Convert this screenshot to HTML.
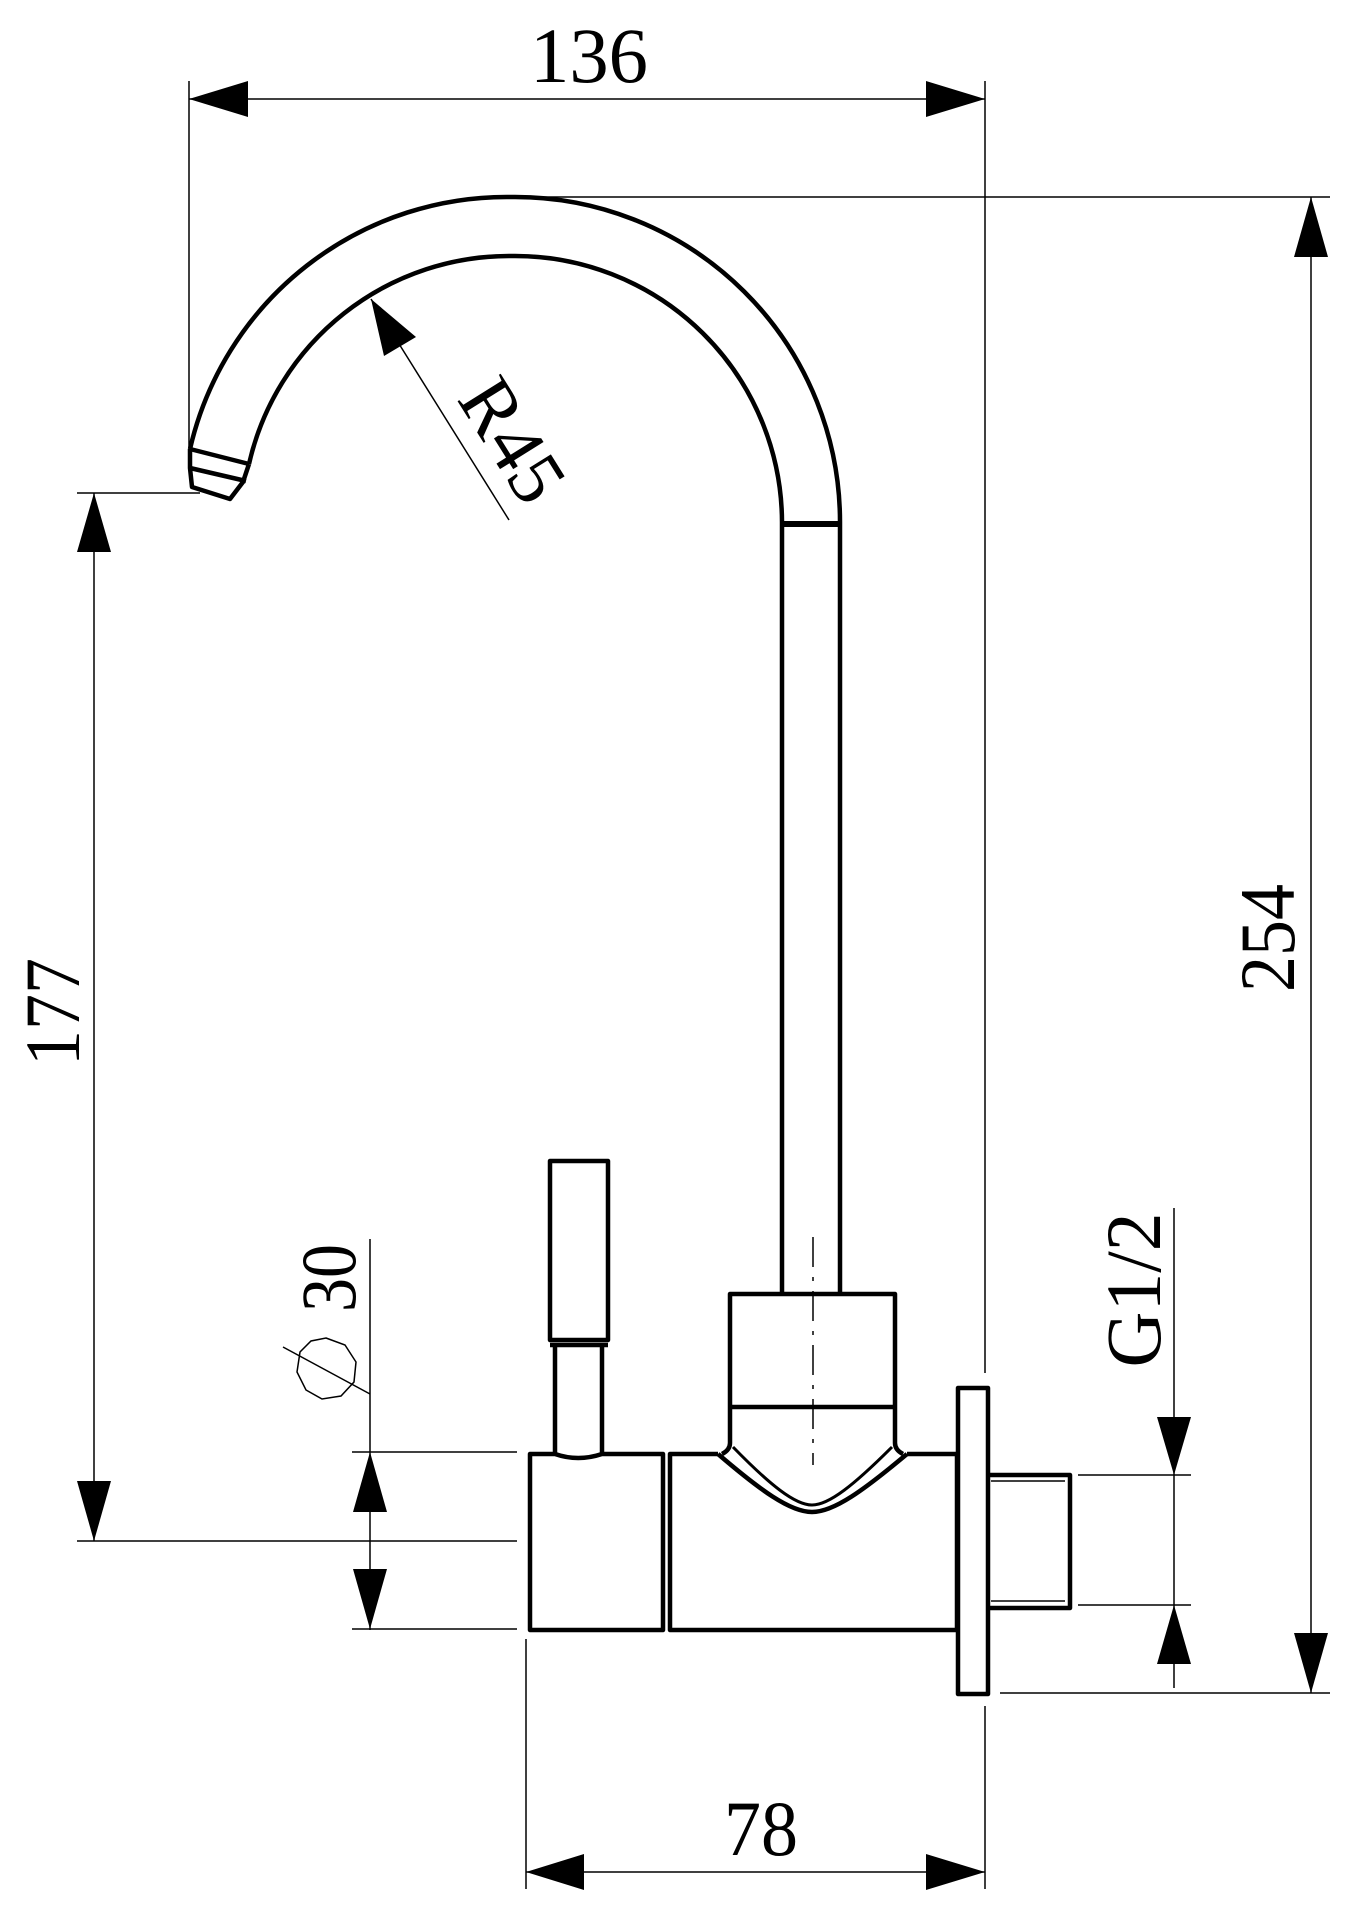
<!DOCTYPE html>
<html><head><meta charset="utf-8"><style>html,body{margin:0;padding:0;background:#fff}svg{display:block}</style></head>
<body>
<svg width="1369" height="1912" viewBox="0 0 1369 1912" xmlns="http://www.w3.org/2000/svg" font-family="Liberation Serif, serif" fill="none" stroke="#000">
<!-- thin dimension lines -->
<g stroke-width="1.5">
<line x1="189" y1="81" x2="189" y2="467"/>
<line x1="985" y1="81" x2="985" y2="1373"/>
<line x1="189" y1="99" x2="985" y2="99"/>
<line x1="513" y1="197" x2="1330" y2="197"/>
<line x1="1311" y1="197" x2="1311" y2="1693"/>
<line x1="1000" y1="1693" x2="1330" y2="1693"/>
<line x1="77" y1="493" x2="200" y2="493"/>
<line x1="94" y1="493" x2="94" y2="1541"/>
<line x1="77" y1="1541" x2="517" y2="1541"/>
<line x1="371" y1="299" x2="509" y2="520"/>
<line x1="370" y1="1239" x2="370" y2="1630"/>
<line x1="352" y1="1452" x2="517" y2="1452"/>
<line x1="352" y1="1629" x2="517" y2="1629"/>
<line x1="283" y1="1347" x2="370" y2="1394"/>
<polygon points="326,1338 345,1345 356,1362 354,1382 341,1396 322,1399 306,1390 297,1372 300,1352 311,1341"/>
<line x1="1174" y1="1208" x2="1174" y2="1688"/>
<line x1="1078" y1="1475" x2="1191" y2="1475"/>
<line x1="1078" y1="1605" x2="1191" y2="1605"/>
<line x1="526" y1="1639" x2="526" y2="1889"/>
<line x1="985" y1="1706" x2="985" y2="1889"/>
<line x1="526" y1="1872" x2="985" y2="1872"/>
</g>
<!-- arrowheads -->
<g fill="#000" stroke="none">
<polygon points="189,99 248,81 248,117"/>
<polygon points="985,99 926,81 926,117"/>
<polygon points="1311,197 1294,257 1328,257"/>
<polygon points="1311,1693 1294,1633 1328,1633"/>
<polygon points="94,493 77,552 111,552"/>
<polygon points="94,1541 77,1481 111,1481"/>
<polygon points="371,299 384,356 416,337"/>
<polygon points="370,1452 353,1512 387,1512"/>
<polygon points="370,1629 353,1569 387,1569"/>
<polygon points="1174,1475 1157,1417 1191,1417"/>
<polygon points="1174,1605 1157,1664 1191,1664"/>
<polygon points="526,1872 584,1854 584,1890"/>
<polygon points="985,1872 926,1854 926,1890"/>
</g>
<!-- spout -->
<g stroke-width="4.5" stroke-linejoin="round">
<path d="M190,449 A325,325 0 0 1 513,197 A325,325 0 0 1 840,522"/>
<path d="M249,464 A267,267 0 0 1 513,256 A267,267 0 0 1 782,522"/>
<line x1="190" y1="449" x2="249" y2="464"/>
<line x1="190" y1="468" x2="246" y2="481"/>
<path d="M190,449 L190,468 L192,487 L230,499 L243,482 L249,464"/>
<line x1="782" y1="522" x2="782" y2="1294"/>
<line x1="840" y1="522" x2="840" y2="1294"/>
<line x1="782" y1="524" x2="840" y2="524" stroke-width="6"/>
<!-- box -->
<path d="M730,1443 L730,1294 L895,1294 L895,1443"/>
<line x1="730" y1="1407" x2="895" y2="1407"/>
<!-- handle -->
<rect x="550" y="1161" width="58" height="179"/>
<line x1="550" y1="1345" x2="608" y2="1345"/>
<line x1="555" y1="1345" x2="555" y2="1454"/>
<line x1="602" y1="1345" x2="602" y2="1454"/>
<!-- left block -->
<path d="M530,1454 L555,1454 Q578,1462 602,1454 L663,1454 L663,1630 L530,1630 Z"/>
<!-- main body -->
<path d="M718,1454 L670,1454 L670,1630 L957,1630 L957,1454 L907,1454"/>
<path d="M718,1454 C760,1490 790,1512 812,1512 C834,1512 864,1490 907,1454"/>
<path d="M730,1443 Q730,1450 722,1454" />
<path d="M895,1443 Q895,1450 903,1454" />
<path d="M733,1447 C770,1485 795,1505 812,1505 C829,1505 854,1485 892,1447" stroke-width="3"/>
<!-- flange -->
<rect x="958" y="1388" width="30" height="306"/>
<!-- nipple -->
<path d="M988,1475 L1070,1475 L1070,1608 L988,1608"/>
</g>
<g stroke-width="1.5">
<line x1="991" y1="1481" x2="1065" y2="1481"/>
<line x1="991" y1="1601" x2="1065" y2="1601"/>
<line x1="813" y1="1237" x2="813" y2="1465" stroke-dasharray="30,10,4,10"/>
</g>
<!-- text -->
<g fill="#000" stroke="none" font-size="78">
<text x="589" y="82" text-anchor="middle" textLength="118" lengthAdjust="spacingAndGlyphs">136</text>
<text x="761" y="1855" text-anchor="middle" textLength="74" lengthAdjust="spacingAndGlyphs">78</text>
<text transform="translate(79,1012) rotate(-90)" text-anchor="middle" textLength="108" lengthAdjust="spacingAndGlyphs">177</text>
<text transform="translate(1294,938) rotate(-90)" text-anchor="middle" textLength="108" lengthAdjust="spacingAndGlyphs">254</text>
<text transform="translate(355,1278) rotate(-90)" text-anchor="middle" textLength="68" lengthAdjust="spacingAndGlyphs">30</text>
<text transform="translate(1160,1290) rotate(-90)" text-anchor="middle" textLength="155" lengthAdjust="spacingAndGlyphs">G1/2</text>
<text transform="translate(513,440) rotate(58)" text-anchor="middle" dominant-baseline="central" textLength="130" lengthAdjust="spacingAndGlyphs">R45</text>
</g>
</svg>
</body></html>
